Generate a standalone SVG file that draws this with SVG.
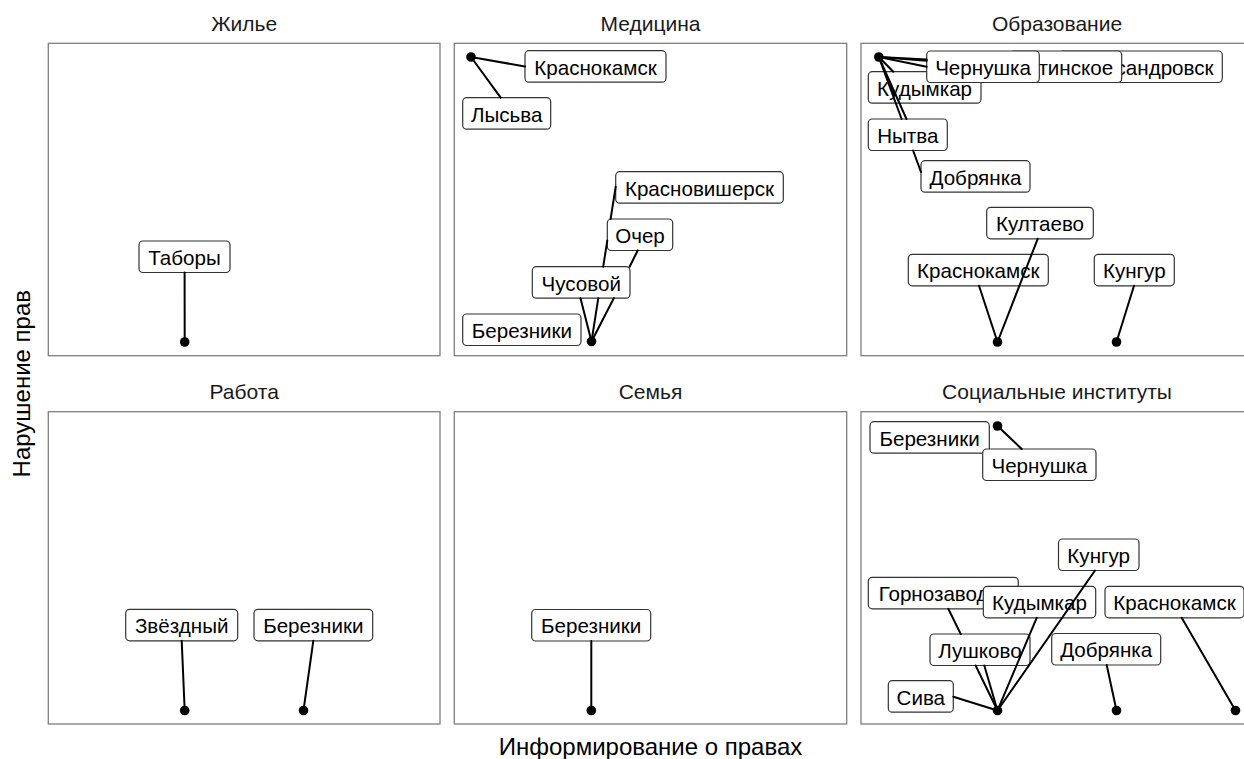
<svg xmlns="http://www.w3.org/2000/svg" width="1244" height="759" viewBox="0 0 1244 759">
<style>
.panel{fill:#fff;stroke:#7f7f7f;stroke-width:1.3}
.strip{font-family:"Liberation Sans",Arial,sans-serif;font-size:21px;fill:#1a1a1a;text-anchor:middle}
.axis{font-family:"Liberation Sans",Arial,sans-serif;font-size:24px;fill:#000;text-anchor:middle}
.lbl rect{fill:#fff;stroke:#333;stroke-width:1.2}
.lbl text{font-family:"Liberation Sans",Arial,sans-serif;font-size:20.6px;fill:#000;text-anchor:middle}
.lbl text.e{text-anchor:end}
.seg line{stroke:#000;stroke-width:2;stroke-linecap:round}
.pt{fill:#000}
</style>
<rect width="1244" height="759" fill="#fff"/>
<g id="panels">
<rect class="panel" x="48.3" y="43.3" width="391.7" height="312.4"/>
<rect class="panel" x="454.3" y="43.3" width="392.4" height="312.4"/>
<rect class="panel" x="861" y="43.3" width="392.4" height="312.4"/>
<rect class="panel" x="48.3" y="411.7" width="391.7" height="312.3"/>
<rect class="panel" x="454.3" y="411.7" width="392.4" height="312.3"/>
<rect class="panel" x="861" y="411.7" width="392.4" height="312.3"/>
</g>
<g id="titles">
<text class="strip" x="244.2" y="30.7">Жилье</text>
<text class="strip" x="650.5" y="30.7">Медицина</text>
<text class="strip" x="1057" y="30.7">Образование</text>
<text class="strip" x="244.2" y="398.5">Работа</text>
<text class="strip" x="650.5" y="398.5">Семья</text>
<text class="strip" x="1057" y="398.5">Социальные институты</text>
<text class="axis" x="650.5" y="755">Информирование о правах</text>
<text class="axis" transform="translate(30,383.7) rotate(-90)">Нарушение прав</text>
</g>
<g id="points">
<circle class="pt" cx="184.7" cy="342" r="4.8"/>
<circle class="pt" cx="471" cy="57" r="4.8"/>
<circle class="pt" cx="591.5" cy="341.5" r="4.8"/>
<circle class="pt" cx="878.8" cy="57" r="4.8"/>
<circle class="pt" cx="997.5" cy="342" r="4.8"/>
<circle class="pt" cx="1116.5" cy="342" r="4.8"/>
<circle class="pt" cx="184.7" cy="710.5" r="4.8"/>
<circle class="pt" cx="303.5" cy="710.5" r="4.8"/>
<circle class="pt" cx="591.3" cy="710.5" r="4.8"/>
<circle class="pt" cx="878.8" cy="426" r="4.8"/>
<circle class="pt" cx="997.5" cy="426" r="4.8"/>
<circle class="pt" cx="997.5" cy="710.5" r="4.8"/>
<circle class="pt" cx="1116.5" cy="710.5" r="4.8"/>
<circle class="pt" cx="1235.5" cy="710.5" r="4.8"/>
</g>
<!-- Жилье -->
<g id="zh-tabory" class="lbl"><rect x="139" y="241" width="91" height="31.5" rx="4"/><text x="184.5" y="264.8">Таборы</text></g>
<!-- Медицина -->
<g id="med-krasnokamsk" class="lbl"><rect x="525" y="50.7" width="141" height="31.5" rx="4"/><text x="595.5" y="74.5">Краснокамск</text></g>
<g id="med-lysva" class="lbl"><rect x="462.7" y="97.7" width="88" height="31.5" rx="4"/><text x="506.7" y="121.5">Лысьва</text></g>
<g id="med-krasnovishersk" class="lbl"><rect x="615.7" y="171.7" width="167.6" height="31.5" rx="4"/><text x="699.5" y="195.5">Красновишерск</text></g>
<g id="med-ocher" class="lbl"><rect x="607.3" y="219" width="65.4" height="31.5" rx="4"/><text x="640" y="242.8">Очер</text></g>
<g id="med-chusovoy" class="lbl"><rect x="532.3" y="266.7" width="97.7" height="31.5" rx="4"/><text x="581.2" y="290.5">Чусовой</text></g>
<g id="med-berezniki" class="lbl"><rect x="462.7" y="314" width="118.3" height="31.5" rx="4"/><text x="521.9" y="337.8">Березники</text></g>
<!-- Образование -->
<g id="obr-aleksandrovsk" class="lbl"><rect x="1059.3" y="51" width="163" height="31.5" rx="4"/><text class="e" x="1213.6" y="74.8">Александровск</text></g>
<g id="obr-tinskoe" class="lbl"><rect x="1010" y="51" width="111.7" height="31.5" rx="4"/><text class="e" x="1113.2" y="74.8">тинское</text></g>
<g id="obr-kudymkar" class="lbl"><rect x="868.3" y="71.7" width="112.7" height="31.5" rx="4"/><text x="924.6" y="95.5">Кудымкар</text></g>
<g id="obr-chernushka" class="lbl"><rect x="926.7" y="51" width="112.6" height="31.5" rx="4"/><text x="983" y="74.8">Чернушка</text></g>
<g id="obr-nytva" class="lbl"><rect x="868.3" y="119" width="79" height="31.5" rx="4"/><text x="907.8" y="142.8">Нытва</text></g>
<g id="obr-dobryanka" class="lbl"><rect x="921" y="160.7" width="109" height="31.5" rx="4"/><text x="975.5" y="184.5">Добрянка</text></g>
<g id="obr-krasnokamsk" class="lbl"><rect x="908.3" y="254.3" width="140" height="31.5" rx="4"/><text x="978.3" y="278.1">Краснокамск</text></g>
<g id="obr-kultaevo" class="lbl"><rect x="986.7" y="207.3" width="106.6" height="31.5" rx="4"/><text x="1040" y="231.1">Култаево</text></g>
<g id="obr-kungur" class="lbl"><rect x="1094.3" y="254.3" width="80" height="31.5" rx="4"/><text x="1134.3" y="278.1">Кунгур</text></g>
<!-- Работа -->
<g id="rab-zvezdny" class="lbl"><rect x="125.7" y="609.3" width="112" height="31.5" rx="4"/><text x="181.7" y="633.1">Звёздный</text></g>
<g id="rab-berezniki" class="lbl"><rect x="254" y="609.3" width="118.7" height="31.5" rx="4"/><text x="313.3" y="633.1">Березники</text></g>
<!-- Семья -->
<g id="sem-berezniki" class="lbl"><rect x="531.7" y="609.5" width="119" height="31.5" rx="4"/><text x="591.2" y="633.3">Березники</text></g>
<!-- Социальные институты -->
<g id="soc-berezniki" class="lbl"><rect x="870" y="421.7" width="119.3" height="31.5" rx="4"/><text x="929.6" y="445.5">Березники</text></g>
<g id="soc-chernushka" class="lbl"><rect x="982.7" y="449" width="113.3" height="31.5" rx="4"/><text x="1039.3" y="472.8">Чернушка</text></g>
<g id="soc-kungur" class="lbl"><rect x="1058.5" y="539" width="80.5" height="31.5" rx="4"/><text x="1098.7" y="562.8">Кунгур</text></g>
<g id="soc-gornozavodsk" class="lbl"><rect x="868.3" y="577.3" width="150" height="31.5" rx="4"/><text x="943.3" y="601.1">Горнозаводск</text></g>
<g id="soc-kudymkar" class="lbl"><rect x="983.3" y="586.3" width="112.4" height="31.5" rx="4"/><text x="1039.5" y="610.1">Кудымкар</text></g>
<g id="soc-krasnokamsk" class="lbl"><rect x="1105" y="586.3" width="139" height="31.5" rx="4"/><text x="1174.5" y="610.1">Краснокамск</text></g>
<g id="soc-lushkovo" class="lbl"><rect x="930" y="634" width="100" height="31.5" rx="4"/><text x="980" y="657.8">Лушково</text></g>
<g id="soc-dobryanka" class="lbl"><rect x="1051.7" y="633.5" width="109" height="31.5" rx="4"/><text x="1106.2" y="657.3">Добрянка</text></g>
<g id="soc-siva" class="lbl"><rect x="888.3" y="680.7" width="65" height="31.5" rx="4"/><text x="920.8" y="704.5">Сива</text></g>
<g id="connectors" class="seg">
<line x1="184.6" y1="272.5" x2="184.7" y2="342"/>
<line x1="471" y1="57" x2="525" y2="66.5"/>
<line x1="471" y1="57" x2="500.7" y2="97.7"/>
<line x1="591.5" y1="341.5" x2="580.5" y2="298.2"/>
<line x1="591.5" y1="341.5" x2="613.8" y2="298.2"/>
<line x1="629.6" y1="266.7" x2="637.7" y2="250.5"/>
<line x1="591.5" y1="341.5" x2="598.3" y2="298.2"/>
<line x1="603.2" y1="266.7" x2="607.3" y2="240.4"/>
<line x1="610.6" y1="219" x2="615.7" y2="186.7"/>
<line x1="878.8" y1="57" x2="893.3" y2="71.7"/>
<line x1="878.8" y1="57" x2="906.5" y2="119"/>
<line x1="878.8" y1="57" x2="901.6" y2="119"/>
<line x1="913.1" y1="150.5" x2="921" y2="172"/>
<line x1="878.8" y1="57" x2="926.7" y2="66.8"/>
<line x1="878.8" y1="57" x2="926.7" y2="60.8"/>
<line x1="878.8" y1="57" x2="926.7" y2="59.5"/>
<line x1="997.5" y1="342" x2="979" y2="285.8"/>
<line x1="997.5" y1="342" x2="1037.7" y2="238.8"/>
<line x1="1116.5" y1="342" x2="1134" y2="285.8"/>
<line x1="181.7" y1="640.8" x2="184.7" y2="710.5"/>
<line x1="313.3" y1="640.8" x2="303.5" y2="710.5"/>
<line x1="591.3" y1="641" x2="591.3" y2="710.5"/>
<line x1="997.5" y1="426" x2="1021.7" y2="449"/>
<line x1="953.3" y1="696.7" x2="997.5" y2="710.5"/>
<line x1="948.3" y1="608.8" x2="960.7" y2="634"/>
<line x1="975.6" y1="665.5" x2="997.5" y2="710.5"/>
<line x1="984.3" y1="665.5" x2="997.5" y2="710.5"/>
<line x1="1036.7" y1="617.8" x2="997.5" y2="710.5"/>
<line x1="1095" y1="570.5" x2="997.5" y2="710.5"/>
<line x1="1106.7" y1="665" x2="1116.5" y2="710.5"/>
<line x1="1181.7" y1="617.8" x2="1235.5" y2="710.5"/>
</g>
</svg>
